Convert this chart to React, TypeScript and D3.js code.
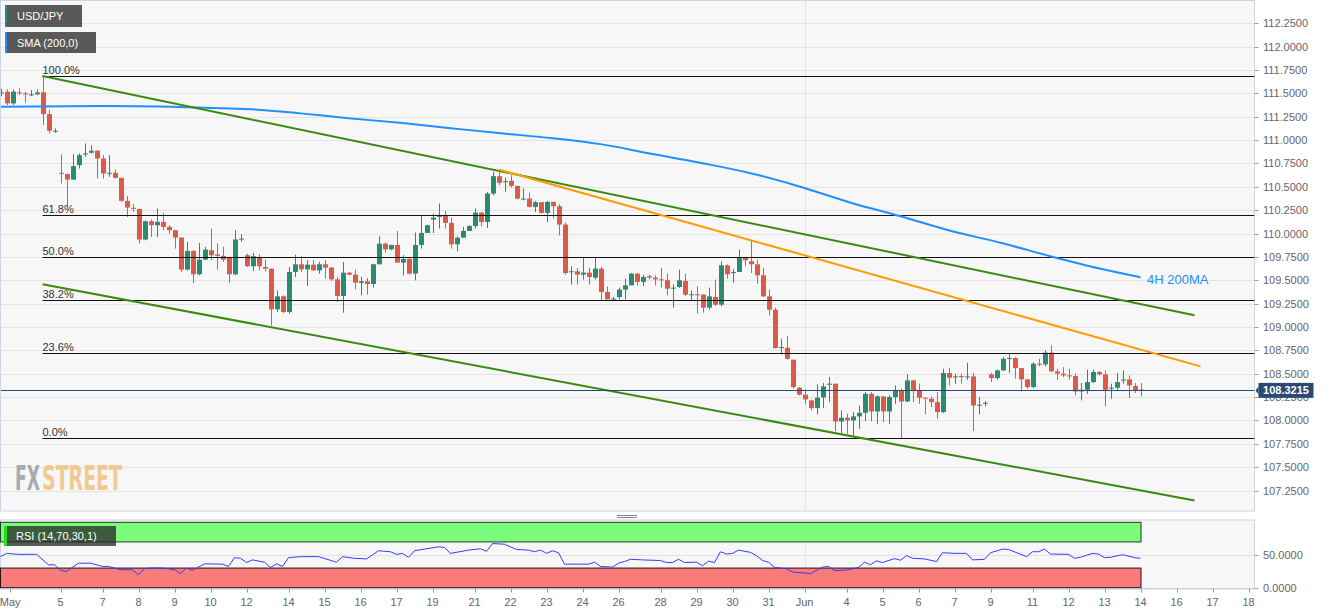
import React from 'react';
import * as d3 from 'd3';

const W = 1331;
const H = 615;

// [open, high, low, close] for each 4H candle
const ohlc: [number, number, number, number][] = [
  [111.50, 111.55, 111.47, 111.51], [111.518, 111.543, 111.375, 111.393], [111.393, 111.543, 111.375, 111.518],
  [111.511, 111.553, 111.482, 111.50], [111.50, 111.518, 111.40, 111.49], [111.485, 111.536, 111.471, 111.49],
  [111.49, 111.543, 111.48, 111.51], [111.511, 111.685, 111.161, 111.278], [111.278, 111.321, 111.071, 111.10],
  [111.095, 111.125, 111.078, 111.10], [110.65, 110.846, 110.536, 110.64], [110.636, 110.643, 110.286, 110.578],
  [110.578, 110.85, 110.571, 110.721], [110.732, 110.857, 110.696, 110.839], [110.846, 110.964, 110.821, 110.857],
  [110.864, 110.946, 110.857, 110.886], [110.886, 110.893, 110.589, 110.803], [110.803, 110.839, 110.589, 110.643],
  [110.643, 110.839, 110.607, 110.65], [110.65, 110.686, 110.589, 110.596], [110.596, 110.596, 110.339, 110.35],
  [110.35, 110.4, 110.178, 110.278], [110.275, 110.314, 110.232, 110.264], [110.264, 110.264, 109.893, 109.936],
  [109.936, 110.136, 109.928, 110.132], [110.132, 110.15, 109.964, 110.089], [110.089, 110.268, 109.964, 110.125],
  [110.125, 110.221, 110.036, 110.071], [110.071, 110.089, 110.0, 110.036], [110.036, 110.04, 109.839, 109.957],
  [109.957, 109.957, 109.589, 109.614], [109.614, 109.911, 109.607, 109.814], [109.814, 109.821, 109.471, 109.564],
  [109.564, 109.9, 109.553, 109.721], [109.721, 109.857, 109.714, 109.828], [109.821, 110.053, 109.714, 109.768],
  [109.775, 109.893, 109.614, 109.761], [109.761, 109.857, 109.696, 109.721], [109.743, 109.75, 109.471, 109.564],
  [109.564, 110.036, 109.553, 109.936], [109.936, 109.993, 109.911, 109.946], [109.768, 109.786, 109.643, 109.65],
  [109.65, 109.793, 109.6, 109.757], [109.75, 109.778, 109.607, 109.65], [109.642, 109.721, 109.596, 109.624],
  [109.624, 109.624, 109.017, 109.189], [109.189, 109.392, 109.16, 109.328], [109.328, 109.339, 109.149, 109.16],
  [109.16, 109.642, 109.142, 109.589], [109.589, 109.774, 109.535, 109.671], [109.671, 109.76, 109.589, 109.617],
  [109.617, 109.714, 109.439, 109.667], [109.667, 109.714, 109.599, 109.606], [109.606, 109.696, 109.571, 109.671],
  [109.671, 109.714, 109.517, 109.635], [109.635, 109.642, 109.492, 109.51], [109.51, 109.535, 109.267, 109.331],
  [109.331, 109.696, 109.153, 109.581], [109.581, 109.589, 109.553, 109.56], [109.56, 109.614, 109.403, 109.474],
  [109.471, 109.535, 109.339, 109.489], [109.489, 109.524, 109.346, 109.46], [109.46, 109.678, 109.421, 109.671],
  [109.671, 109.971, 109.671, 109.892], [109.892, 109.903, 109.796, 109.831], [109.831, 109.881, 109.821, 109.878],
  [109.878, 110.028, 109.689, 109.689], [109.689, 109.767, 109.553, 109.728], [109.728, 109.739, 109.56, 109.571],
  [109.571, 110.01, 109.499, 109.878], [109.878, 110.196, 109.839, 110.006], [110.006, 110.096, 110.006, 110.089],
  [110.149, 110.214, 110.006, 110.171], [110.178, 110.321, 110.053, 110.196], [110.196, 110.242, 110.053, 110.114],
  [110.114, 110.171, 109.839, 109.885], [109.885, 109.971, 109.81, 109.956], [109.956, 110.071, 109.956, 110.028],
  [110.028, 110.089, 110.028, 110.081], [110.081, 110.267, 110.053, 110.224], [110.224, 110.231, 110.078, 110.124],
  [110.124, 110.446, 110.06, 110.428], [110.428, 110.66, 110.41, 110.614], [110.614, 110.66, 110.517, 110.542],
  [110.549, 110.599, 110.446, 110.56], [110.564, 110.624, 110.492, 110.51], [110.51, 110.51, 110.364, 110.374],
  [110.367, 110.481, 110.356, 110.374], [110.374, 110.439, 110.278, 110.285], [110.285, 110.349, 110.231, 110.335],
  [110.335, 110.335, 110.214, 110.221], [110.221, 110.349, 110.124, 110.339], [110.339, 110.339, 110.16, 110.292],
  [110.292, 110.314, 109.981, 110.096], [110.096, 110.117, 109.56, 109.578], [109.589, 109.649, 109.453, 109.596],
  [109.596, 109.631, 109.453, 109.56], [109.56, 109.739, 109.507, 109.582], [109.582, 109.635, 109.453, 109.535],
  [109.528, 109.739, 109.507, 109.625], [109.625, 109.643, 109.278, 109.375], [109.375, 109.435, 109.296, 109.296],
  [109.296, 109.321, 109.285, 109.303], [109.321, 109.421, 109.293, 109.4], [109.4, 109.518, 109.293, 109.446],
  [109.446, 109.578, 109.446, 109.571], [109.571, 109.578, 109.446, 109.482], [109.482, 109.56, 109.439, 109.535],
  [109.543, 109.56, 109.507, 109.528], [109.528, 109.553, 109.446, 109.51], [109.51, 109.635, 109.421, 109.5],
  [109.5, 109.571, 109.339, 109.41], [109.41, 109.457, 109.207, 109.421], [109.428, 109.614, 109.418, 109.5],
  [109.493, 109.571, 109.332, 109.346], [109.346, 109.393, 109.285, 109.35], [109.35, 109.435, 109.143, 109.346],
  [109.346, 109.35, 109.153, 109.207], [109.207, 109.421, 109.185, 109.328], [109.321, 109.507, 109.225, 109.239],
  [109.239, 109.703, 109.221, 109.66], [109.66, 109.671, 109.518, 109.564], [109.578, 109.618, 109.475, 109.589],
  [109.589, 109.828, 109.589, 109.739], [109.739, 109.75, 109.653, 109.714], [109.703, 109.928, 109.578, 109.671],
  [109.671, 109.721, 109.464, 109.553], [109.553, 109.635, 109.321, 109.328], [109.328, 109.4, 109.125, 109.185],
  [109.185, 109.207, 108.768, 108.775], [108.775, 108.875, 108.707, 108.785], [108.778, 108.903, 108.65, 108.66],
  [108.65, 108.65, 108.339, 108.357], [108.35, 108.357, 108.268, 108.275], [108.275, 108.332, 108.171, 108.225],
  [108.214, 108.221, 108.107, 108.132], [108.132, 108.385, 108.064, 108.243], [108.246, 108.4, 108.132, 108.364],
  [108.382, 108.464, 108.196, 108.393], [108.393, 108.393, 107.885, 107.989], [107.989, 108.107, 107.864, 108.028],
  [108.028, 108.071, 107.857, 108.0], [108.0, 108.089, 107.839, 108.043], [108.043, 108.16, 107.91, 108.082],
  [108.082, 108.303, 107.993, 108.285], [108.285, 108.303, 107.989, 108.096], [108.096, 108.268, 107.964, 108.257],
  [108.257, 108.257, 107.982, 108.096], [108.096, 108.268, 107.964, 108.25], [108.25, 108.375, 108.178, 108.321],
  [108.321, 108.339, 107.803, 108.203], [108.203, 108.493, 108.196, 108.428], [108.428, 108.435, 108.196, 108.321],
  [108.321, 108.393, 108.178, 108.243], [108.243, 108.243, 108.064, 108.232], [108.232, 108.257, 108.143, 108.196],
  [108.196, 108.303, 108.018, 108.089], [108.089, 108.553, 108.078, 108.507], [108.507, 108.564, 108.375, 108.457],
  [108.464, 108.5, 108.393, 108.471], [108.475, 108.5, 108.393, 108.464], [108.464, 108.618, 108.435, 108.471],
  [108.471, 108.507, 107.885, 108.16], [108.16, 108.25, 108.064, 108.168], [108.179, 108.207, 108.15, 108.189],
  [108.493, 108.507, 108.41, 108.453], [108.453, 108.543, 108.435, 108.535], [108.535, 108.678, 108.535, 108.66],
  [108.66, 108.707, 108.507, 108.668], [108.668, 108.678, 108.446, 108.56], [108.56, 108.56, 108.31, 108.439],
  [108.439, 108.446, 108.339, 108.357], [108.357, 108.625, 108.346, 108.607], [108.607, 108.66, 108.578, 108.6],
  [108.6, 108.75, 108.578, 108.725], [108.725, 108.803, 108.518, 108.525], [108.525, 108.553, 108.435, 108.5],
  [108.5, 108.571, 108.464, 108.482], [108.482, 108.553, 108.435, 108.475], [108.475, 108.5, 108.268, 108.31],
  [108.31, 108.4, 108.214, 108.328], [108.328, 108.543, 108.285, 108.41], [108.41, 108.543, 108.4, 108.518],
  [108.518, 108.528, 108.482, 108.493], [108.493, 108.535, 108.153, 108.328], [108.339, 108.393, 108.232, 108.35],
  [108.35, 108.507, 108.328, 108.41], [108.428, 108.535, 108.393, 108.439], [108.439, 108.482, 108.239, 108.375],
  [108.368, 108.4, 108.293, 108.321], [108.33, 108.4, 108.257, 108.3215],
];

// [candle index, value]
const sma200: [number, number][] = [
  [0, 111.358], [17, 111.364], [33, 111.348], [42, 111.329], [50, 111.286], [58, 111.235], [67, 111.182],
  [75, 111.128], [83, 111.075], [92, 111.021], [100, 110.957], [108, 110.86], [117, 110.753], [125, 110.646],
  [133, 110.507], [142, 110.325], [150, 110.185], [158, 110.035], [167, 109.896], [175, 109.757], [183, 109.628],
  [190, 109.532],
];

const rsi14: [number, number][] = [
  [0, 47.5], [1, 52.5], [3, 51], [6, 51], [8, 35], [9, 35], [10, 26.5], [11, 25], [13, 37.5], [15, 37.5], [17, 32.5],
  [18, 32.5], [20, 27.5], [22, 27.5], [23, 20], [24, 29], [25, 30], [27, 30], [29, 27.5], [30, 21.5], [31, 30],
  [32, 26.5], [34, 36.5], [37, 36], [38, 32.5], [39, 46], [40, 45], [41, 38.5], [42, 42.5], [44, 39], [45, 31],
  [46, 36.5], [47, 32.5], [48, 46], [50, 47.5], [53, 47.5], [56, 39], [57, 47.5], [59, 45], [61, 44], [63, 56.5],
  [65, 55], [66, 51], [67, 52.5], [68, 46.5], [69, 56.5], [73, 62.5], [74, 61.5], [75, 52.5], [78, 57.5], [80, 59.5],
  [81, 55.5], [82, 67.5], [84, 66.5], [86, 58.5], [88, 57.5], [89, 55], [90, 57.5], [91, 52.5], [92, 56.5],
  [93, 53.5], [94, 36], [98, 36], [99, 39], [100, 32.5], [102, 31.5], [103, 37.5], [104, 40], [105, 43.5],
  [107, 42.5], [110, 41.5], [111, 38.5], [112, 38.5], [113, 43.5], [114, 38.5], [116, 39], [117, 33.5], [118, 40.5],
  [119, 38.5], [120, 55], [121, 51.5], [122, 52.5], [123, 57.5], [125, 54], [126, 49], [127, 41.5], [128, 39],
  [129, 31], [131, 29], [132, 24], [134, 22.5], [135, 21.5], [137, 31.5], [138, 32.5], [139, 26], [141, 27],
  [143, 31], [144, 39], [145, 35], [146, 41], [147, 38.5], [149, 44.5], [150, 42], [151, 49], [152, 45], [154, 44],
  [156, 40], [157, 53.5], [159, 52.5], [161, 52.5], [162, 42.5], [164, 43.5], [165, 53.5], [167, 59], [168, 58.5],
  [171, 47.5], [172, 55], [173, 55], [174, 59], [175, 51.5], [178, 51], [179, 45], [180, 46.5], [182, 52.5],
  [183, 51.5], [184, 46], [185, 46.5], [187, 50.5], [189, 46], [190, 45],
];

const upperChannel: [number, number][] = [[7, 111.685], [199, 109.125]];
const lowerChannel: [number, number][] = [[7, 109.457], [199, 107.142]];
const resistanceLine: [number, number][] = [[83, 110.686], [200, 108.578]];

const fibHigh = 111.685;
const fibLow = 107.807;
const fibStartIdx = 7;
const fibLevels = [1, 0.618, 0.5, 0.382, 0.236, 0];
const fibLabels = ['100.0%', '61.8%', '50.0%', '38.2%', '23.6%', '0.0%'];
const lastPrice = 108.3215;

const priceTicks = [107.25, 107.5, 107.75, 108, 108.25, 108.5, 108.75, 109, 109.25, 109.5, 109.75, 110, 110.25,
  110.5, 110.75, 111, 111.25, 111.5, 111.75, 112, 112.25];
const rsiTicks = [0, 50];
const rsiBands = { lower: 30, upper: 70 };
const monthStartIdx = 134;

const dateTicks: [number, string][] = [
  [1.6, 'May'], [10, '5'], [17, '7'], [23, '8'], [29, '9'], [35, '10'], [41, '12'], [48, '14'], [54, '15'],
  [60, '16'], [66, '17'], [72, '19'], [79, '21'], [85, '22'], [91, '23'], [97, '24'], [103, '26'], [110, '28'],
  [116, '29'], [122, '30'], [128, '31'], [134, 'Jun'], [141, '4'], [147, '5'], [153, '6'], [159, '7'], [165, '9'],
  [172, '11'], [178, '12'], [184, '13'], [190, '14'], [196, '16'], [202, '17'], [208, '18'],
];

const FONT = 'Liberation Sans, Arial, sans-serif';
const UP = '#2b8a72';
const DOWN = '#dc5a48';

export default function App() {
  const plotRight = 1254.5;
  const mainTop = 0.5;
  const mainBottom = 511;
  const rsiTop = 520;
  const rsiBottom = 588.5;

  const x = d3.scaleLinear().domain([0, 1]).range([0.5, 6.5]);
  const y = d3.scaleLinear().domain([107.25, 112.25]).range([490.5, 23.3]);
  const yr = d3.scaleLinear().domain([0, 100]).range([587.7, 522.3]);

  const maLine = d3.line<[number, number]>().x(d => x(d[0])).y(d => y(d[1])).curve(d3.curveMonotoneX);
  const straight = d3.line<[number, number]>().x(d => x(d[0])).y(d => y(d[1]));
  const rsiLine = d3.line<[number, number]>().x(d => x(d[0])).y(d => yr(d[1]));

  const lastIdx = ohlc.length - 1;
  const bandRight = x(lastIdx);
  const junX = Math.round(x(monthStartIdx)) + 0.5;

  const legendFill = 'rgba(40,40,40,0.76)';

  return (
    <svg width={W} height={H} style={{ position: 'absolute', left: 0, top: 0, display: 'block', background: '#fff' }}
      fontFamily={FONT}>
      <defs>
        <clipPath id="mainClip">
          <rect x={1} y={1} width={plotRight - 1} height={mainBottom - 1} />
        </clipPath>
      </defs>
      {/* main panel */}
      <rect x={0.5} y={mainTop} width={plotRight - 0.5} height={mainBottom - mainTop} fill="#f7f7f7" stroke="#cdd3e4" />
      {priceTicks.map(t => (
        <line key={'g' + t} x1={1} x2={plotRight} y1={Math.round(y(t)) + 0.5} y2={Math.round(y(t)) + 0.5}
          stroke="#e4e4e4" />
      ))}
      <line x1={junX} x2={junX} y1={1} y2={mainBottom} stroke="#e4e4e4" />

      {/* watermark */}
      <g opacity={0.85}>
        <text x={15} y={490} fontSize={34} fontWeight="bold" fill="#9a9da6" textLength={25}
          lengthAdjust="spacingAndGlyphs" fontFamily="Liberation Sans Narrow, DejaVu Sans Condensed, Arial Narrow, sans-serif">FX</text>
        <text x={42} y={490} fontSize={34} fontWeight="bold" fill="#f2c17f" textLength={80}
          lengthAdjust="spacingAndGlyphs" fontFamily="Liberation Sans Narrow, DejaVu Sans Condensed, Arial Narrow, sans-serif">STREET</text>
      </g>

      <g clipPath="url(#mainClip)">
        {/* candles */}
        {ohlc.map((c, i) => {
          const [o, h, l, cl] = c;
          const up = cl >= o;
          const col = up ? UP : DOWN;
          const cx = Math.round(x(i)) + 0.5;
          const top = y(Math.max(o, cl));
          const bh = Math.max(1, Math.abs(y(o) - y(cl)));
          return (
            <g key={i}>
              <line x1={cx} x2={cx} y1={y(h)} y2={y(l)} stroke={col} strokeWidth={1} />
              <rect x={cx - 2.5} y={top} width={5} height={bh} fill={col} />
            </g>
          );
        })}

        {/* fibonacci */}
        {fibLevels.map((lv, k) => {
          const p = fibLow + lv * (fibHigh - fibLow);
          const yy = Math.round(y(p)) + 0.5;
          return (
            <g key={'f' + k}>
              <line x1={x(fibStartIdx)} x2={plotRight} y1={yy} y2={yy} stroke="#111" strokeWidth={1.2} />
              <text x={x(fibStartIdx)} y={yy - 3} fontSize={11} fill="#333">{fibLabels[k]}</text>
            </g>
          );
        })}

        {/* moving average */}
        <path d={maLine(sma200) || ''} fill="none" stroke="#1e90ff" strokeWidth={2} />
        {/* trend lines */}
        <path d={straight(upperChannel) || ''} fill="none" stroke="#3a8a10" strokeWidth={2} />
        <path d={straight(lowerChannel) || ''} fill="none" stroke="#3a8a10" strokeWidth={2} />
        <path d={straight(resistanceLine) || ''} fill="none" stroke="#ff9a00" strokeWidth={2} />

        {/* current price line */}
        <line x1={1} x2={plotRight} y1={Math.round(y(lastPrice)) + 0.5} y2={Math.round(y(lastPrice)) + 0.5}
          stroke="#2b4a72" strokeWidth={1} />
      </g>

      <text x={1147} y={284} fontSize={13} fill="#1e90ff">4H 200MA</text>

      {/* legends */}
      <rect x={5} y={5} width={77} height={22} fill={legendFill} />
      <rect x={5} y={5} width={2} height={22} fill="#2b8a72" />
      <text x={17} y={20} fontSize={11} fill="#fff">USD/JPY</text>
      <rect x={5} y={32} width={91} height={21} fill={legendFill} />
      <rect x={5} y={32} width={2} height={21} fill="#1e90ff" />
      <text x={17} y={47} fontSize={11} fill="#fff">SMA (200,0)</text>

      {/* price axis */}
      {priceTicks.map(t => (
        <g key={'t' + t}>
          <line x1={plotRight} x2={plotRight + 4} y1={Math.round(y(t)) + 0.5} y2={Math.round(y(t)) + 0.5} stroke="#999" />
          <text x={1263} y={y(t) + 4} fontSize={11} fill="#666">{t.toFixed(4)}</text>
        </g>
      ))}
      {/* last price tag */}
      <g>
        <path d={`M${plotRight + 1},${y(lastPrice)} L${plotRight + 4},${y(lastPrice) - 4} L${plotRight + 4},${y(lastPrice) + 4} Z`}
          fill="#2b4a72" />
        <rect x={plotRight + 4} y={y(lastPrice) - 7.5} width={55} height={15} fill="#2b4a72" />
        <text x={plotRight + 31.5} y={y(lastPrice) + 4} fontSize={11} fontWeight="bold" fill="#fff" textAnchor="middle">
          {lastPrice.toFixed(4)}
        </text>
      </g>

      {/* splitter grip */}
      <line x1={617} x2={637} y1={515.5} y2={515.5} stroke="#888" />
      <line x1={617} x2={637} y1={517.5} y2={517.5} stroke="#888" />

      {/* RSI panel */}
      <rect x={0.5} y={rsiTop} width={plotRight - 0.5} height={rsiBottom - rsiTop} fill="#f7f7f7" stroke="#cdd3e4" />
      <line x1={1} x2={plotRight} y1={Math.round(yr(50)) + 0.5} y2={Math.round(yr(50)) + 0.5} stroke="#e2e2e2" />
      <line x1={junX} x2={junX} y1={rsiTop} y2={rsiBottom} stroke="#e4e4e4" />
      <rect x={0.5} y={yr(100)} width={bandRight} height={yr(rsiBands.upper) - yr(100)} fill="#7cfc7c" stroke="#1d3d1d" strokeWidth={1} />
      <rect x={0.5} y={yr(rsiBands.lower)} width={bandRight} height={yr(0) - yr(rsiBands.lower)} fill="#fb7b7b" stroke="#2a1010" strokeWidth={1} />
      <path d={rsiLine(rsi14) || ''} fill="none" stroke="#2f3fff" strokeWidth={1} />
      <rect x={4} y={526} width={112} height={20} fill={legendFill} />
      <rect x={4} y={526} width={3} height={20} fill="#1ee01e" />
      <text x={16} y={540} fontSize={11} fill="#fff">RSI (14,70,30,1)</text>
      {rsiTicks.map(t => (
        <g key={'r' + t}>
          <line x1={plotRight} x2={plotRight + 4} y1={Math.round(yr(t)) + 0.5} y2={Math.round(yr(t)) + 0.5} stroke="#999" />
          <text x={1263} y={yr(t) + 4} fontSize={11} fill="#666">{t.toFixed(4)}</text>
        </g>
      ))}

      {/* date axis */}
      <line x1={0} x2={plotRight} y1={rsiBottom + 0.5} y2={rsiBottom + 0.5} stroke="#c7cede" />
      {dateTicks.map(([i, lab], k) => (
        <g key={'d' + k}>
          <line x1={Math.round(x(i)) + 0.5} x2={Math.round(x(i)) + 0.5} y1={rsiBottom} y2={rsiBottom + 4} stroke="#999" />
          <text x={x(i)} y={606} fontSize={11} fill="#666" textAnchor="middle">{lab}</text>
        </g>
      ))}
    </svg>
  );
}
